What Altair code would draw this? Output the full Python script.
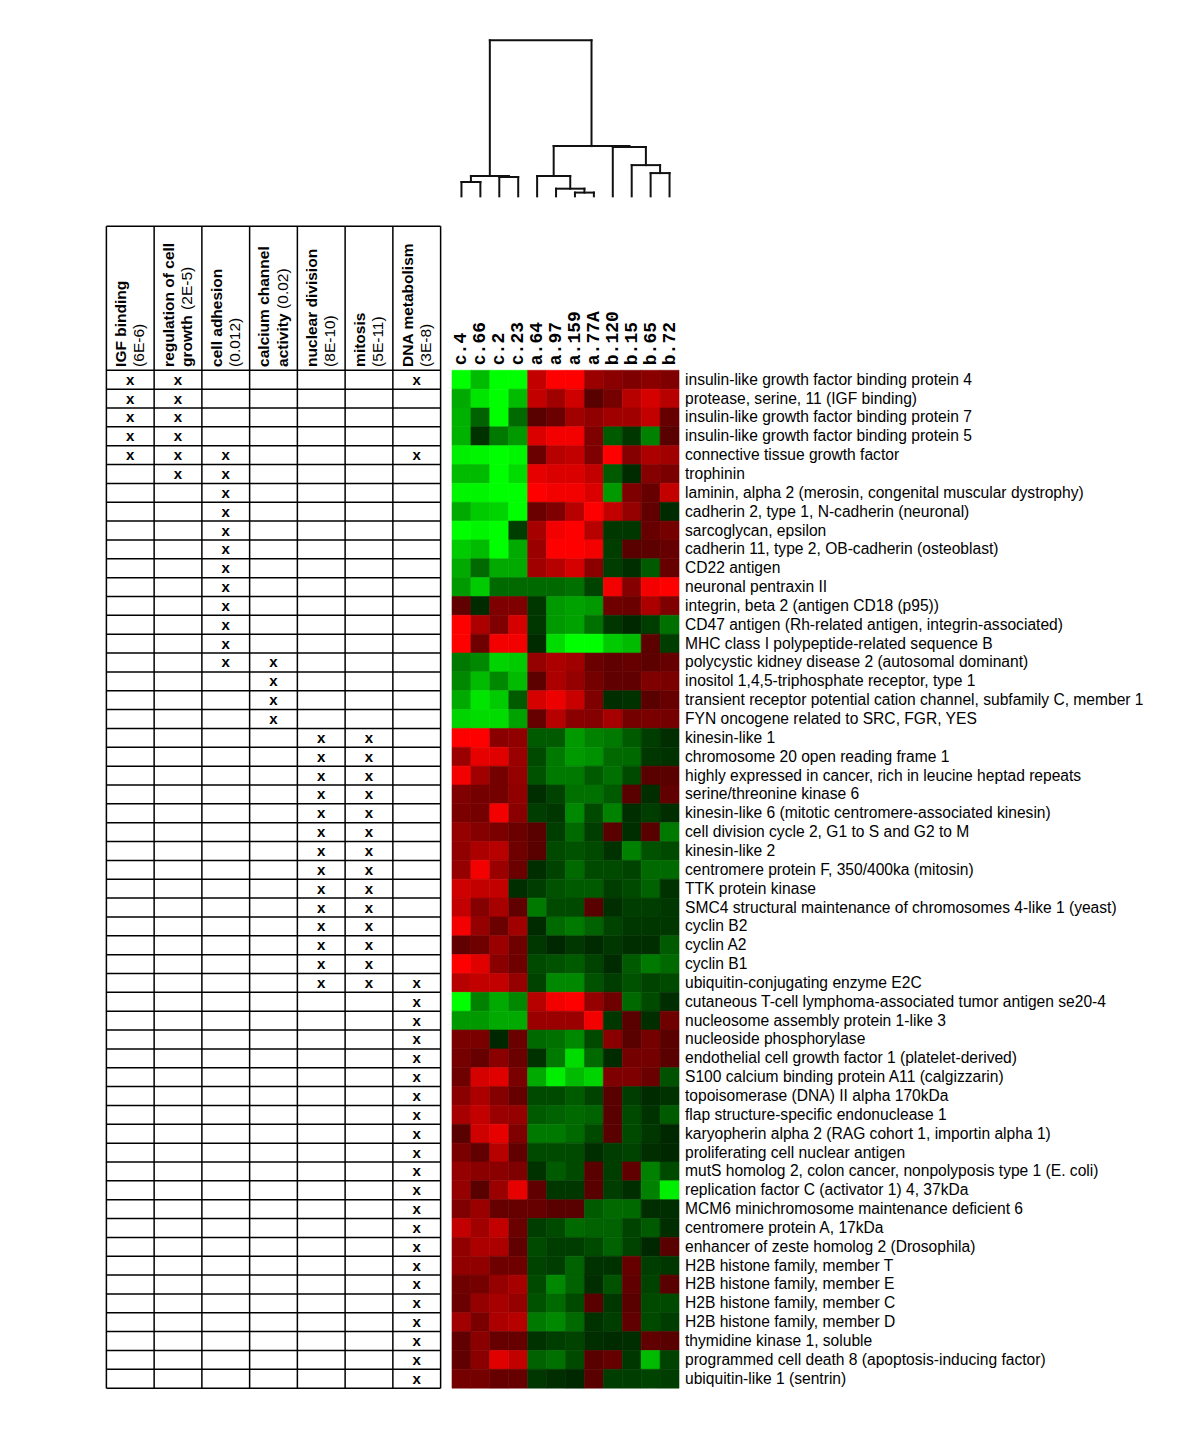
import altair as alt
import pandas as pd

# ---------------- data ----------------
samples = ["c.4", "c.66", "c.2", "c.23", "a.64", "a.97", "a.159", "a.77A",
           "b.120", "b.15", "b.65", "b.72"]

genes = [
    "insulin-like growth factor binding protein 4",
    "protease, serine, 11 (IGF binding)",
    "insulin-like growth factor binding protein 7",
    "insulin-like growth factor binding protein 5",
    "connective tissue growth factor",
    "trophinin",
    "laminin, alpha 2 (merosin, congenital muscular dystrophy)",
    "cadherin 2, type 1, N-cadherin (neuronal)",
    "sarcoglycan, epsilon",
    "cadherin 11, type 2, OB-cadherin (osteoblast)",
    "CD22 antigen",
    "neuronal pentraxin II",
    "integrin, beta 2 (antigen CD18 (p95))",
    "CD47 antigen (Rh-related antigen, integrin-associated)",
    "MHC class I polypeptide-related sequence B",
    "polycystic kidney disease 2 (autosomal dominant)",
    "inositol 1,4,5-triphosphate receptor, type 1",
    "transient receptor potential cation channel, subfamily C, member 1",
    "FYN oncogene related to SRC, FGR, YES",
    "kinesin-like 1",
    "chromosome 20 open reading frame 1",
    "highly expressed in cancer, rich in leucine heptad repeats",
    "serine/threonine kinase 6",
    "kinesin-like 6 (mitotic centromere-associated kinesin)",
    "cell division cycle 2, G1 to S and G2 to M",
    "kinesin-like 2",
    "centromere protein F, 350/400ka (mitosin)",
    "TTK protein kinase",
    "SMC4 structural maintenance of chromosomes 4-like 1 (yeast)",
    "cyclin B2",
    "cyclin A2",
    "cyclin B1",
    "ubiquitin-conjugating enzyme E2C",
    "cutaneous T-cell lymphoma-associated tumor antigen se20-4",
    "nucleosome assembly protein 1-like 3",
    "nucleoside phosphorylase",
    "endothelial cell growth factor 1 (platelet-derived)",
    "S100 calcium binding protein A11 (calgizzarin)",
    "topoisomerase (DNA) II alpha 170kDa",
    "flap structure-specific endonuclease 1",
    "karyopherin alpha 2 (RAG cohort 1, importin alpha 1)",
    "proliferating cell nuclear antigen",
    "mutS homolog 2, colon cancer, nonpolyposis type 1 (E. coli)",
    "replication factor C (activator 1) 4, 37kDa",
    "MCM6 minichromosome maintenance deficient 6",
    "centromere protein A, 17kDa",
    "enhancer of zeste homolog 2 (Drosophila)",
    "H2B histone family, member T",
    "H2B histone family, member E",
    "H2B histone family, member C",
    "H2B histone family, member D",
    "thymidine kinase 1, soluble",
    "programmed cell death 8 (apoptosis-inducing factor)",
    "ubiquitin-like 1 (sentrin)",
]

# log-ratio style values (green < 0 < red), one list per gene, columns as in `samples`
expression = [
    [-3, -2.2, -3, -3, 2, 3, 3, 1.3, 1, 0.8, 1, 0.8],
    [-2, -2.7, -3, -2.2, 2, 1.4, 2.2, 0, 0.6, 1.8, 2.3, 1.8],
    [-2.1, -1.1, -3, -1.2, 0, 0.4, 1.4, 1.1, 1.4, 1.4, 2, 0.3],
    [-2.1, -0.4, -1.4, -1.8, 2.4, 2.8, 2.8, 0.8, -1, -0.5, -1.5, 0],
    [-2.8, -2.9, -3, -2.9, 0.4, 1.8, 2, 0.8, 3, 0.9, 1.6, 1.4],
    [-2.2, -2.2, -3, -2.6, 2.6, 2.4, 2.4, 2, -1, -0.2, 0.9, 0.7],
    [-2.9, -2.9, -3, -3, 3, 2.8, 2.8, 2.4, -1.8, 0.8, 0.3, 2],
    [-2, -2.4, -2.5, -3, 0.4, 0.8, 1.8, 3, 2, 1.2, 0.2, -0.2],
    [-3, -2.9, -3, -0.6, 1.5, 2.8, 3, 1.8, -0.5, -0.5, 0.3, 0.6],
    [-2.4, -2.2, -3, -2, 1.3, 3, 3, 2.8, -0.6, 0, 0.1, 0.3],
    [-2, -1.2, -2, -2, 1.4, 1.8, 2.3, 1, -0.6, -0.3, -1, 0.3],
    [-1.8, -2.4, -1.2, -1.2, -1.2, -1.2, -1.3, -0.7, 2.8, 0.9, 2.8, 3],
    [0.2, -0.2, 0.8, 0.8, -0.5, -1.8, -1.9, -1.8, 0.5, 0.4, 1.6, 0.8],
    [3, 1.6, 0.8, 2.3, -0.5, -1.8, -1.9, -1.3, -0.5, -0.1, -0.6, -1.3],
    [3, 0.5, 2.8, 2.8, -0.2, -2.6, -3, -3, -2.4, -2.2, 0.1, -0.6],
    [-1.4, -1.6, -2.5, -2.4, 1.2, 1.6, 1.4, 0.4, 0.2, 0.3, 0.1, 0.3],
    [-1.6, -2.2, -1.6, -2.2, 0.1, 1.6, 1.2, 0.6, 0.2, 0.2, 0.8, 0.7],
    [-2, -2.7, -2.4, -1, 2.3, 2.7, 2.1, 0.8, -0.3, -0.4, 0, 0.3],
    [-2.5, -2.6, -2.6, -1.9, 0.3, 1.8, 1, 0.9, 1.5, 0.6, 0.7, 0.6],
    [3, 3, 1, 1.1, -1, -1, -1.8, -1.5, -1.4, -1, -0.6, -0.3],
    [1.3, 2.6, 2.5, 1.3, -0.8, -1.4, -1.8, -1.7, -1.2, -1.2, -0.5, -0.4],
    [2.8, 1.4, 0.6, 1.2, -0.9, -1.4, -1.4, -1, -1.3, -0.8, 0, 0],
    [0.8, 0.6, 0.6, 1.1, -0.3, -0.7, -1.3, -1.3, -1, 0, -0.3, 0.2],
    [0.7, 0.6, 2.8, 1, -0.6, -0.5, -1.6, -0.8, -1.5, -0.3, -0.6, -0.3],
    [1.2, 0.9, 0.7, 0.4, 0, -0.6, -1.2, -0.6, 0, -0.3, 0, -1.4],
    [1.1, 1.6, 1.8, 0.5, 0, -0.8, -0.9, -0.8, -0.4, -1.5, -0.9, -0.8],
    [1.2, 2.8, 1.3, 0.4, -0.3, -0.7, -1.2, -0.8, -0.8, -0.7, -1.2, -1.2],
    [2.2, 2, 2, -0.3, -0.6, -0.9, -1, -1, -0.6, -0.8, -1.1, -0.4],
    [2, 0.9, 1.5, 0.2, -1.4, -0.8, -0.8, 0, -0.3, -0.6, -0.6, -0.5],
    [2.8, 1.2, 0.4, 1.4, -0.2, -1.2, -1.4, -1.1, -0.7, -0.5, -0.5, -0.5],
    [0.2, 0.5, 1.3, 0.5, -0.5, -0.1, -0.5, -0.2, -0.5, -0.3, -0.3, -1],
    [3, 2.5, 1, 0.5, -0.8, -0.9, -1, -0.7, -0.2, -1, -1.4, -1.2],
    [1.8, 2, 2, 1.2, -0.7, -1.6, -1.6, -0.9, -0.6, -0.9, -0.7, -0.8],
    [-3, -1.5, -2, -1.6, 1.8, 2.8, 3, 1.2, 0.5, -1.2, -0.8, -0.3],
    [-1.8, -1.8, -2, -2, 1.3, 1.3, 1.3, 2.8, -0.5, 0, -0.3, 0.5],
    [0.7, 0.7, -0.1, 0.4, -1.2, -1.3, -1.6, -0.8, 1, 0, 0.6, 0],
    [0.6, 0.3, 1, 0.4, -0.4, -1.4, -2.6, -1.2, -0.2, 0.6, 0.6, 0],
    [0.5, 2.3, 2.5, 0.7, -2, -2.8, -2.2, -2.5, 0.8, 0.8, 0.4, -0.9],
    [1, 1.6, 0.9, 0.3, -0.8, -0.8, -1, -0.7, 0, -0.6, -0.2, -0.4],
    [1.5, 2, 1.3, 1.2, -1, -1.1, -1.2, -1.1, 0, -0.8, -0.4, -1],
    [0, 2.2, 2.6, 0.8, -1.4, -1.4, -1.2, -0.8, 0, -0.8, -0.5, -0.1],
    [0.7, 0.2, 1.8, 0.2, -0.8, -0.8, -0.8, -0.3, -0.6, -0.7, -0.3, -0.1],
    [1.2, 1, 1, 0.8, -0.4, -1, -0.8, 0, -0.6, 0.2, -1.5, -0.8],
    [1.2, 0, 1.3, 2.6, 0.2, -0.5, -0.5, 0, -0.6, -0.3, -1.5, -2.8],
    [0.8, 1.3, 0.3, 0.3, 0.3, 0, 0, -1, -1.2, -1.2, -0.3, -0.3],
    [2, 1.4, 2, 0.4, -0.6, -0.8, -1.2, -1.1, -1.1, -0.7, -1, -0.3],
    [1.1, 1.6, 1.6, 0.2, -0.8, -0.6, -0.6, -0.8, -1.1, -0.7, -0.1, 0],
    [1.1, 1.1, 0.5, 0.5, -0.7, -0.6, -1.1, -0.4, -0.4, 0.3, -0.6, -0.5],
    [0.5, 0.6, 1.2, 1.5, -0.8, -1.6, -1.1, -0.3, -0.9, 0.2, -0.7, 0],
    [0.4, 1.2, 1.5, 1.2, -0.9, -1.2, -0.8, 0, -0.5, 0, -0.8, -0.8],
    [1.4, 0.7, 1.6, 1.8, -1.4, -1.6, -1.2, -0.4, -0.6, 0.2, -0.8, -0.6],
    [0.2, 1, 0.3, 0.3, -0.4, -0.6, -0.7, -0.3, -0.2, -0.3, 0.2, 0],
    [0.2, 1, 2.5, 2, -1.1, -1.3, -0.8, 0, 0.3, -0.5, -2.2, -0.7],
    [0.6, 0.6, 0.3, 0.3, -0.5, -0.3, -0.1, 0, -0.6, -0.6, -0.7, -0.6],
]

# GO categories of the annotation table
go_terms = ["IGF binding", "regulation of cell", "cell adhesion", "calcium channel",
            "nuclear division", "mitosis", "DNA metabolism"]
go_terms_cont = ["", "growth", "", "activity", "", "", ""]
go_pvalues = ["(6E-6)", "(2E-5)", "(0.012)", "(0.02)", "(8E-10)", "(5E-11)", "(3E-8)"]
# gene numbers (1-based, in `genes` order) marked with an x in each column
go_members = [
    [1, 2, 3, 4, 5],
    [1, 2, 3, 4, 5, 6],
    [5, 6, 7, 8, 9, 10, 11, 12, 13, 14, 15, 16],
    [16, 17, 18, 19],
    [20, 21, 22, 23, 24, 25, 26, 27, 28, 29, 30, 31, 32, 33],
    [20, 21, 22, 23, 24, 25, 26, 27, 28, 29, 30, 31, 32, 33],
    [1, 5, 33, 34, 35, 36, 37, 38, 39, 40, 41, 42, 43, 44, 45, 46, 47, 48, 49,
     50, 51, 52, 53, 54],
]

# sample dendrogram: (node, left child, right child, merge height relative to root)
merges = [
    ("m1", "c.4", "c.66", 0.092),
    ("m2", "c.2", "c.23", 0.124),
    ("m3", "m1", "m2", 0.130),
    ("m4", "a.159", "a.77A", 0.024),
    ("m5", "a.97", "m4", 0.049),
    ("m6", "a.64", "m5", 0.130),
    ("m7", "b.65", "b.72", 0.149),
    ("m8", "b.15", "m7", 0.200),
    ("m9", "b.120", "m8", 0.316),
    ("m10", "m6", "m9", 0.322),
    ("m11", "m3", "m10", 1.0),
]

# ---------------- layout constants ----------------
ROW_PX = 18.852
Y_DOMAIN = [-18, 54.15]
HEIGHT = round((Y_DOMAIN[1] - Y_DOMAIN[0]) * ROW_PX)
TABLE_TOP = -7.64          # top border of the table header (rows)
HEADER_BASE = -0.18        # where rotated header texts start (rows)
LABEL_BASE = -0.27
TABLE_X_DOMAIN = [-0.05, 7.05]
TABLE_W = 339
HEAT_W = 227
LINE = "#000000"
FONT = "Liberation Sans"
PVALUE_DX = [0, 57, 0, 58, 0, 0, 0]

ys = alt.Scale(domain=Y_DOMAIN, reverse=True, nice=False, zero=False)
xs_table = alt.Scale(domain=TABLE_X_DOMAIN, nice=False, zero=False)
xs_heat = alt.Scale(domain=[0, len(samples)], nice=False, zero=False)

n_rows = len(genes)
n_cols = len(go_terms)

# ---------------- table ----------------
vl = pd.DataFrame({"x": list(range(n_cols + 1))})
vl["y"] = TABLE_TOP
vl["y2"] = n_rows
hl = pd.DataFrame({"y": [TABLE_TOP] + list(range(n_rows + 1))})
hl["x"] = 0
hl["x2"] = n_cols

vlines = alt.Chart(vl).mark_rule(color=LINE, strokeWidth=1.5).encode(
    x=alt.X("x:Q", scale=xs_table, axis=None),
    y=alt.Y("y:Q", scale=ys, axis=None), y2="y2:Q")
hlines = alt.Chart(hl).mark_rule(color=LINE, strokeWidth=1.5).encode(
    x=alt.X("x:Q", scale=xs_table, axis=None), x2="x2:Q",
    y=alt.Y("y:Q", scale=ys, axis=None))

xm = []
for c, members in enumerate(go_members):
    for g in members:
        xm.append({"x": c + 0.5, "y": g - 0.5, "t": "x"})
xm = pd.DataFrame(xm)
xmarks = alt.Chart(xm).mark_text(font=FONT, fontSize=15, fontWeight="bold",
                                 baseline="middle", align="center").encode(
    x=alt.X("x:Q", scale=xs_table, axis=None),
    y=alt.Y("y:Q", scale=ys, axis=None), text="t:N")

hd1 = pd.DataFrame({"x": [c + 0.31 for c in range(n_cols)], "y": HEADER_BASE, "t": go_terms})
head1 = alt.Chart(hd1).mark_text(font=FONT, fontSize=15.5, fontWeight="bold", angle=270,
                                 align="left", baseline="middle").encode(
    x=alt.X("x:Q", scale=xs_table, axis=None),
    y=alt.Y("y:Q", scale=ys, axis=None), text="t:N")

hd2 = pd.DataFrame({"x": [c + 0.69 for c in range(n_cols)], "y": HEADER_BASE, "t": go_terms_cont})
hd2 = hd2[hd2["t"] != ""]
head2 = alt.Chart(hd2).mark_text(font=FONT, fontSize=15.5, fontWeight="bold", angle=270,
                                 align="left", baseline="middle").encode(
    x=alt.X("x:Q", scale=xs_table, axis=None),
    y=alt.Y("y:Q", scale=ys, axis=None), text="t:N")

pv_layers = []
for c in range(n_cols):
    d = pd.DataFrame({"x": [c + 0.69], "y": [HEADER_BASE], "t": [go_pvalues[c]]})
    pv_layers.append(alt.Chart(d).mark_text(font=FONT, fontSize=15.5, angle=270, align="left",
                                            baseline="middle", dx=PVALUE_DX[c]).encode(
        x=alt.X("x:Q", scale=xs_table, axis=None),
        y=alt.Y("y:Q", scale=ys, axis=None), text="t:N"))

table = alt.layer(vlines, hlines, xmarks, head1, head2, *pv_layers).properties(
    width=TABLE_W, height=HEIGHT)

# ---------------- heatmap ----------------
cells = []
for r, vals in enumerate(expression):
    for c, v in enumerate(vals):
        cells.append({"gene": genes[r], "sample": samples[c], "col": c, "col2": c + 1,
                      "row": r, "row2": r + 1, "value": v})
cells = pd.DataFrame(cells)
cscale = alt.Scale(domain=[-3, 0, 3], range=["#00ff00", "#000000", "#ff0000"], clamp=True)

heat = alt.Chart(cells).mark_rect(strokeWidth=0.6).encode(
    x=alt.X("col:Q", scale=xs_heat, axis=None), x2="col2:Q",
    y=alt.Y("row:Q", scale=ys, axis=None), y2="row2:Q",
    color=alt.Color("value:Q", scale=cscale, legend=None),
    stroke=alt.Stroke("value:Q", scale=cscale, legend=None))

gl = pd.DataFrame({"gene": genes, "row": [i + 0.5 for i in range(n_rows)]})
gl["col"] = len(samples)
gene_labels = alt.Chart(gl).mark_text(font=FONT, fontSize=15.6, align="left",
                                      baseline="middle", dx=6, color="#000").encode(
    x=alt.X("col:Q", scale=xs_heat, axis=None),
    y=alt.Y("row:Q", scale=ys, axis=None), text="gene:N")

sl = pd.DataFrame({"sample": samples, "col": [i + 0.5 for i in range(len(samples))]})
sl["row"] = LABEL_BASE
sample_labels = alt.Chart(sl).mark_text(font="Liberation Mono", fontSize=18, fontWeight="bold",
                                        angle=270, align="left", baseline="middle",
                                        color="#000").encode(
    x=alt.X("col:Q", scale=xs_heat, axis=None),
    y=alt.Y("row:Q", scale=ys, axis=None), text="sample:N")

# dendrogram segments from the merge list
pos = {s: i + 0.5 for i, s in enumerate(samples)}
hgt = {s: 0.0 for s in samples}
segs = []
for node, a, b, h in merges:
    segs.append({"x": pos[a], "x2": pos[a], "h": hgt[a], "h2": h})
    segs.append({"x": pos[b], "x2": pos[b], "h": hgt[b], "h2": h})
    segs.append({"x": pos[a], "x2": pos[b], "h": h, "h2": h})
    pos[node] = (pos[a] + pos[b]) / 2
    hgt[node] = h
segs = pd.DataFrame(segs)
leaf_px = (-9.23 - Y_DOMAIN[0]) * ROW_PX
root_px = (-17.507 - Y_DOMAIN[0]) * ROW_PX
dendro = alt.Chart(segs).mark_rule(color="#111", strokeWidth=2, strokeCap="square").encode(
    x=alt.X("x:Q", scale=xs_heat, axis=None), x2="x2:Q",
    y=alt.Y("h:Q", scale=alt.Scale(domain=[0, 1], range=[leaf_px, root_px], nice=False, zero=False),
            axis=None),
    y2="h2:Q")

right = alt.layer(heat, sample_labels, gene_labels, dendro).resolve_scale(
    y="independent").properties(width=HEAT_W, height=HEIGHT)

chart = alt.hconcat(table, right, spacing=8).resolve_scale(
    x="independent", y="independent", color="independent", stroke="independent"
).properties(
    padding={"left": 96, "top": 23, "right": 5, "bottom": 5}
).configure_view(stroke=None)

chart.save("out.html", embed_options={"renderer": "svg", "actions": False})
